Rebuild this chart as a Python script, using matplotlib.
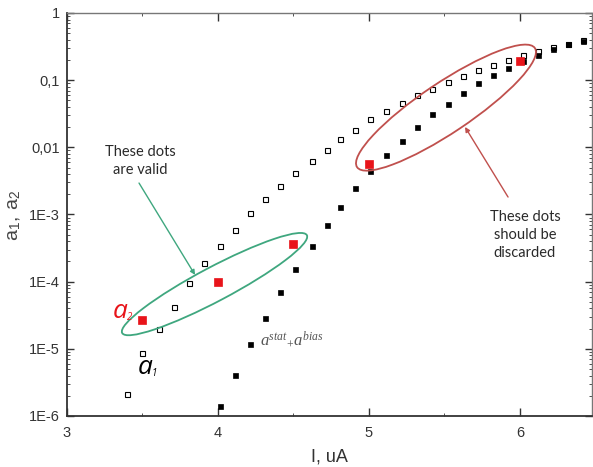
import numpy as np
import matplotlib
matplotlib.use('Agg')
import matplotlib.pyplot as plt
from matplotlib.patches import Ellipse
from matplotlib.transforms import IdentityTransform
from matplotlib.ticker import FixedLocator, FixedFormatter, LogLocator, NullFormatter

plt.rcParams['font.family'] = ['Liberation Sans', 'DejaVu Sans']
plt.rcParams['mathtext.fontset'] = 'custom'
plt.rcParams['mathtext.it'] = 'Liberation Serif:italic'
plt.rcParams['mathtext.rm'] = 'Liberation Serif'
plt.rcParams['mathtext.sf'] = 'Liberation Sans'

# a1 (open squares)
I_a1 = [3.40, 3.50, 3.61, 3.71, 3.81, 3.91, 4.01, 4.11, 4.21, 4.31, 4.41, 4.51,
        4.62, 4.72, 4.81, 4.91, 5.01, 5.11, 5.22, 5.32, 5.42, 5.52, 5.62, 5.72,
        5.82, 5.92, 6.02, 6.12, 6.22, 6.32, 6.42]
a1 = [2.1e-6, 8.7e-6, 2.0e-5, 4.2e-5, 9.5e-5, 1.9e-4, 3.4e-4, 5.9e-4, 1.05e-3,
      1.7e-3, 2.7e-3, 4.2e-3, 6.2e-3, 9.1e-3, 0.0132, 0.018, 0.026, 0.035, 0.045,
      0.060, 0.074, 0.094, 0.115, 0.14, 0.17, 0.20, 0.24, 0.27, 0.31, 0.35, 0.39]

# a_stat + a_bias (filled squares)
I_sb = [4.01, 4.11, 4.21, 4.31, 4.41, 4.51, 4.62, 4.72, 4.81, 4.91, 5.01, 5.11,
        5.22, 5.32, 5.42, 5.52, 5.62, 5.72, 5.82, 5.92, 6.02, 6.12, 6.22, 6.32, 6.42]
a_sb = [1.4e-6, 4.1e-6, 1.17e-5, 2.9e-5, 7.1e-5, 1.55e-4, 3.4e-4, 6.9e-4, 1.3e-3,
        2.5e-3, 4.4e-3, 7.6e-3, 0.0125, 0.020, 0.031, 0.044, 0.064, 0.091, 0.12,
        0.154, 0.19, 0.24, 0.29, 0.34, 0.38]

# a2 (red squares)
I_a2 = [3.5, 4.0, 4.5, 5.0, 6.0]
a2 = [2.7e-5, 1.0e-4, 3.6e-4, 5.6e-3, 0.19]

x_ticks = [3, 4, 5, 6]
y_ticks = [1e-6, 1e-5, 1e-4, 1e-3, 1e-2, 1e-1, 1]
y_labels = ['1E-6', '1E-5', '1E-4', '1E-3', '0,01', '0,1', '1']

fig = plt.figure(figsize=(5.93, 4.67), dpi=100)
ax = fig.add_axes([67 / 593, 1 - 416 / 467, 525 / 593, 403 / 467])

ax.plot(I_a1, a1, 's', ms=3.6, mfc='white', mec='black', mew=0.8, zorder=3)
ax.plot(I_sb, a_sb, 's', ms=3.6, mfc='black', mec='black', mew=0.5, zorder=4)
ax.plot(I_a2, a2, 's', ms=5.2, mfc='#e8141a', mec='#e8141a', mew=0.5, zorder=5)

ax.set_yscale('log')
ax.set_xlim(3, 6.477)
ax.set_ylim(1e-6, 1)

ax.xaxis.set_major_locator(FixedLocator(x_ticks))
ax.xaxis.set_minor_locator(FixedLocator([3.5, 4.5, 5.5]))
ax.yaxis.set_major_locator(FixedLocator(y_ticks))
ax.yaxis.set_major_formatter(FixedFormatter(y_labels))
ax.yaxis.set_minor_locator(LogLocator(base=10, subs=np.arange(2, 10), numticks=20))
ax.yaxis.set_minor_formatter(NullFormatter())

ax.tick_params(which='both', direction='in', top=True, right=True,
               labelsize=10.5, labelcolor='#333333', color='#333333')
ax.tick_params(which='major', length=5, width=1)
ax.tick_params(which='minor', length=2.5, width=0.6)
ax.tick_params(axis='x', which='major', length=6, pad=7)
ax.tick_params(axis='y', pad=5)

for side in ['left', 'bottom']:
    ax.spines[side].set_color('#333333')
    ax.spines[side].set_linewidth(1.3)
for side in ['top', 'right']:
    ax.spines[side].set_color('#777777')
    ax.spines[side].set_linewidth(1.0)

ax.set_xlabel('I, uA', fontsize=13, color='#333333')
ax.xaxis.set_label_coords(0.5, -0.08)
fig.text(15 / 593, 1 - 215 / 467, r'$\mathsf{a}_\mathsf{1}\mathsf{,\ a}_\mathsf{2}$',
         rotation=90, ha='center', va='center', fontsize=14, color='#444444')

# ellipses drawn in pixel space around data centres
green = '#3fa77f'
red = '#c0504d'
cx, cy = ax.transData.transform((3.977, 9.2e-5))
ax.add_patch(Ellipse((cx, cy), 209, 34, angle=27.9, fill=False, ec=green, lw=1.3,
                     transform=IdentityTransform(), zorder=6))
cx, cy = ax.transData.transform((5.51, 0.039))
ax.add_patch(Ellipse((cx, cy), 214, 50, angle=33.8, fill=False, ec=red, lw=1.3,
                     transform=IdentityTransform(), zorder=6))

ax.text(3.483, 6.3e-3, 'These dots\nare valid', ha='center', va='center',
        fontsize=10.5, family='Lato', color='#2a2a2a', linespacing=1.4)
ax.annotate('', xy=(3.848, 1.26e-4), xytext=(3.477, 2.94e-3),
            arrowprops=dict(arrowstyle='-|>', color=green, lw=1.0,
                            mutation_scale=7, shrinkA=0, shrinkB=0))
ax.text(6.033, 4.95e-4, 'These dots\nshould be\ndiscarded', ha='center', va='center',
        fontsize=10.5, family='Lato', color='#2a2a2a', linespacing=1.4)
ax.annotate('', xy=(5.636, 0.0201), xytext=(5.921, 1.82e-3),
            arrowprops=dict(arrowstyle='-|>', color=red, lw=1.0,
                            mutation_scale=7, shrinkA=0, shrinkB=0))

# a2 / a1 labels: big italic "a" with a tiny subscript
for (lx, ly, sub, col) in [(3.305, 2.88e-5, '2', '#e8141a'), (3.47, 4.2e-6, '1', 'black')]:
    ax.text(lx, ly, 'a', color=col, fontsize=19, family='Open Sans', style='italic',
            ha='left', va='baseline', zorder=7)
    ax.annotate(sub, xy=(lx, ly), xytext=(14, -2), textcoords='offset pixels',
                color=col, fontsize=7, family='Open Sans', style='italic',
                ha='left', va='baseline', zorder=7)
ax.text(4.278, 1.14e-5, r'$a^{stat}{}_{+}a^{bias}$', color='#555555', fontsize=12,
        ha='left', va='baseline', zorder=7)

fig.savefig('out.png', dpi=100)
